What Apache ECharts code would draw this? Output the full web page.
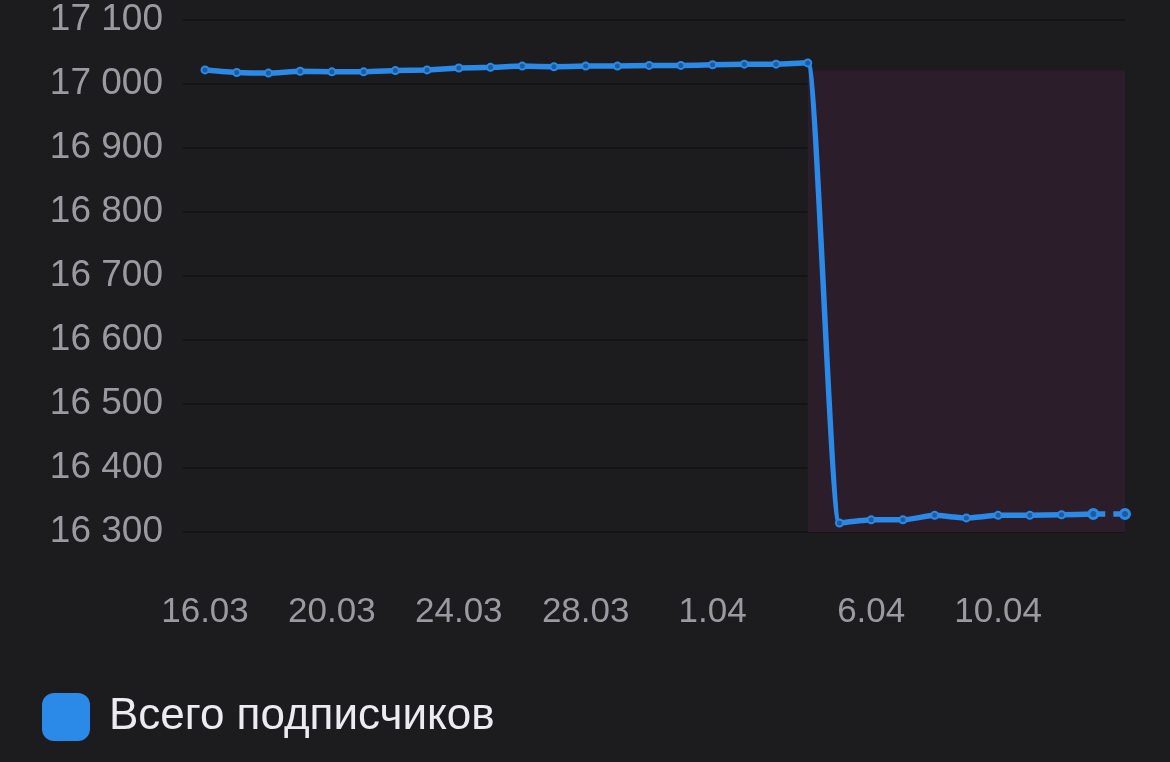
<!DOCTYPE html>
<html>
<head>
<meta charset="utf-8">
<script src="https://cdn.jsdelivr.net/npm/echarts@6/dist/echarts.min.js"></script>
<style>
html,body{margin:0;padding:0;background:#1c1c1e;}
#chart{width:1170px;height:762px;}
</style>
</head>
<body>
<div id="chart"></div>
<script>
const dates = ['16.03','17.03','18.03','19.03','20.03','21.03','22.03','23.03','24.03','25.03','26.03','27.03','28.03','29.03','30.03','31.03','1.04','2.04','3.04','4.04','5.04','6.04','7.04','8.04','9.04','10.04','11.04','12.04','13.04','14.04'];
const subscribers = [17022,17018,17017,17020,17019,17019,17021,17022,17025,17026,17028,17027,17028,17028,17029,17029,17030,17031,17031,17033,16314,16319,16319,16326,16322,16326,16326,16327,16328,16328];
const shownLabels = ['16.03','20.03','24.03','28.03','1.04','6.04','10.04'];
const seriesName = 'Всего подписчиков';
const highlightFrom = '4.04';
const highlightTo = '14.04';
const highlightTop = 17021;

const yMin = 16300, yMax = 17100, yStep = 100;
const lastIdx = subscribers.length - 1;
const solidData = subscribers.map((v, i) => i < lastIdx ? v : null);
const dashedData = subscribers.map((v, i) => i >= lastIdx - 1 ? v : null);

const blue = '#2b8ae8';
const dot = '#1d5b9c';
const gridTop = 20, gridBottom = 230, gridRight = 45;

const chart = echarts.init(document.getElementById('chart'), null, {renderer: 'canvas'});
chart.setOption({
  backgroundColor: '#1c1c1e',
  animation: false,
  textStyle: {fontFamily: '"Liberation Sans", Arial, sans-serif'},
  grid: [
    {left: 183, right: gridRight, top: gridTop, bottom: gridBottom},
    {left: 205, right: gridRight, top: gridTop, bottom: gridBottom}
  ],
  xAxis: [
    {gridIndex: 0, type: 'value', min: 0, max: 1, show: false},
    {
      gridIndex: 1, type: 'category', data: dates, boundaryGap: false,
      axisLine: {show: false}, axisTick: {show: false}, splitLine: {show: false},
      axisLabel: {
        interval: (idx, val) => shownLabels.includes(val),
        color: '#9a9a9f', fontSize: 35, lineHeight: 40, margin: 60,
        fontFamily: '"Liberation Sans", Arial, sans-serif'
      }
    }
  ],
  yAxis: [
    {
      gridIndex: 0, type: 'value', min: yMin, max: yMax, interval: yStep,
      axisLine: {show: false}, axisTick: {show: false},
      splitLine: {show: true, lineStyle: {color: '#121214', width: 1.5}},
      axisLabel: {
        color: '#9a9a9f', fontSize: 37, margin: 20,
        fontFamily: '"Liberation Sans", Arial, sans-serif',
        formatter: v => String(v).replace(/(\d{2})(\d{3})$/, '$1 $2')
      }
    },
    {gridIndex: 1, type: 'value', min: yMin, max: yMax, interval: yStep, show: false, splitLine: {show: false}}
  ],
  legend: {
    left: 37, top: 688,
    icon: 'roundRect', itemWidth: 48, itemHeight: 48,
    data: [{name: seriesName, itemStyle: {color: blue, borderWidth: 0}}],
    textStyle: {color: '#ececf0', fontSize: 44, padding: [0, 0, 0, 14], fontFamily: '"Liberation Sans", Arial, sans-serif'}
  },
  series: [
    {
      name: seriesName, type: 'line', xAxisIndex: 1, yAxisIndex: 1,
      data: solidData, smooth: 0.15,
      symbol: 'circle', symbolSize: 7, showSymbol: true,
      lineStyle: {color: blue, width: 5.5},
      itemStyle: {color: dot, borderColor: blue, borderWidth: 2},
      markArea: {
        silent: true,
        itemStyle: {color: '#2b1d29'},
        data: [[{xAxis: highlightFrom, yAxis: yMin}, {xAxis: highlightTo, yAxis: highlightTop}]]
      },
      z: 3
    },
    {
      name: seriesName, type: 'line', xAxisIndex: 1, yAxisIndex: 1,
      data: dashedData,
      symbol: 'circle', symbolSize: 9, showSymbol: true,
      lineStyle: {color: blue, width: 5.5, type: [12, 8]},
      itemStyle: {color: dot, borderColor: blue, borderWidth: 3},
      z: 3
    }
  ]
});
</script>
</body>
</html>
